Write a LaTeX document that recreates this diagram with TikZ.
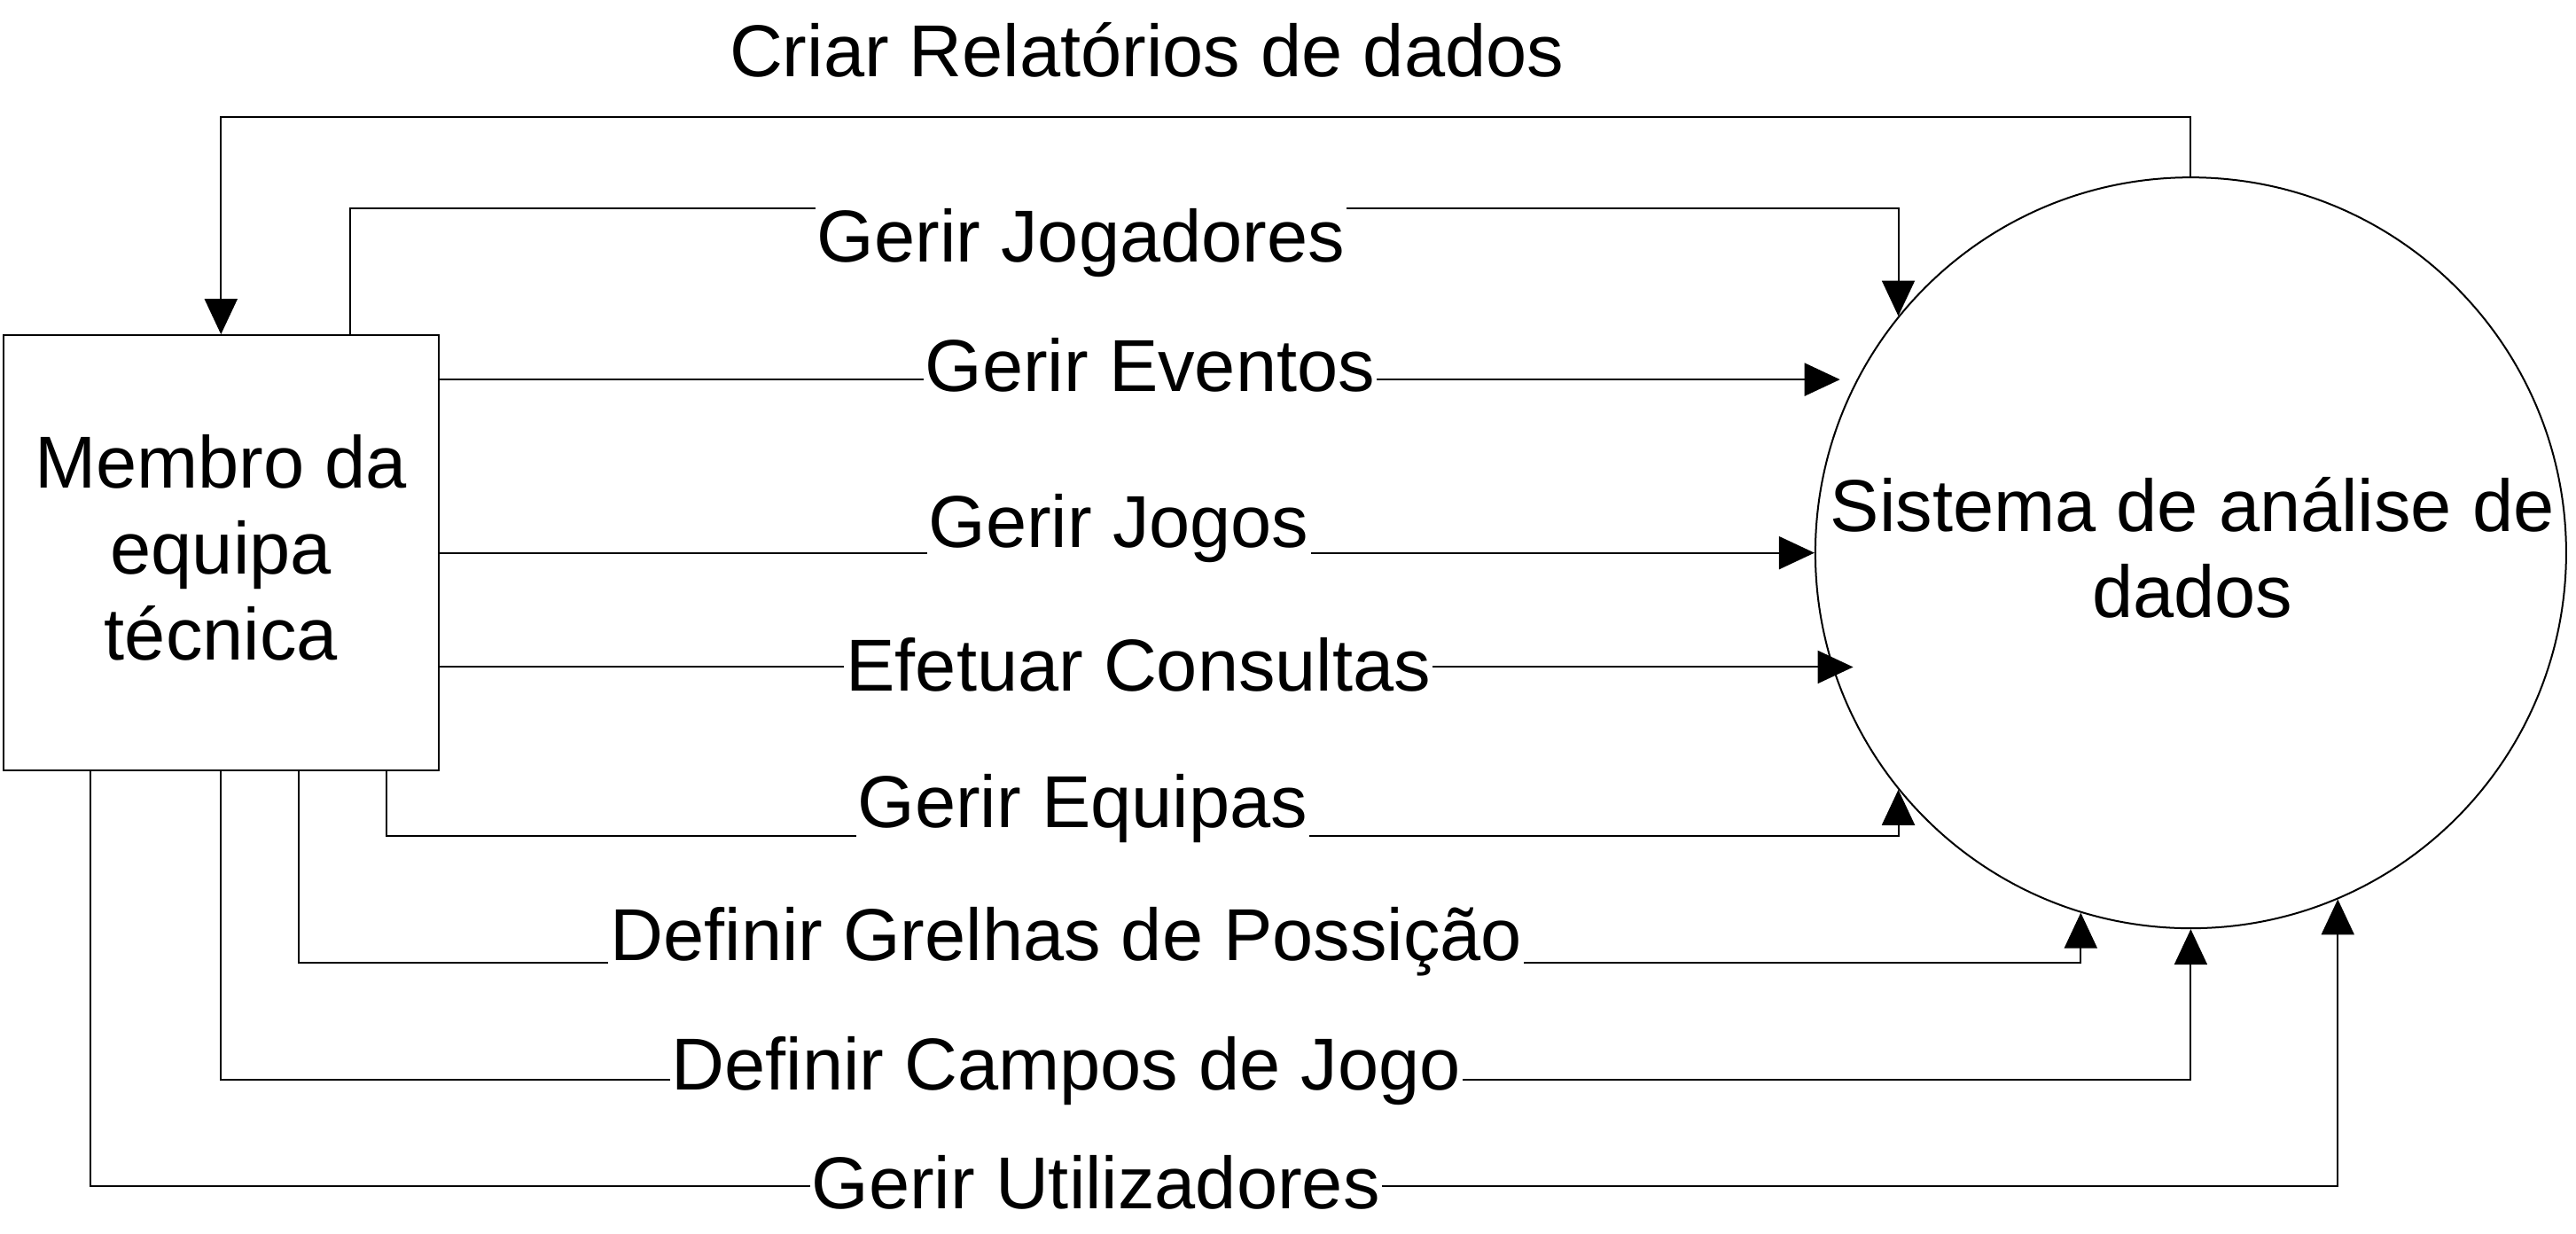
\documentclass[tikz,border=0pt]{standalone}
\usepackage{fontspec}
\setmainfont{Liberation Sans}
\usetikzlibrary{arrows.meta}
\begin{document}
\begin{tikzpicture}[x=1.8533pt,y=-1.8533pt,
  every node/.style={font=\fontsize{83}{97}\selectfont},
  ln/.style={line width=2pt},
  arr/.style={ln,-{Triangle[length=40pt,width=37pt]}},
  entity/.style={draw,line width=2pt,minimum width=491pt,minimum height=491pt,inner sep=0pt},
  proc/.style={draw,circle,line width=2pt,minimum size=847pt,inner sep=0pt},
  lbl/.style={fill=white,inner xsep=2pt,inner ysep=3pt,text height=61pt,text depth=17.5pt}]
\useasboundingbox (0,0) rectangle (1568,751);
\node[entity] (m) at (134.5,336.5) {};
\node (mt) at (134.5,333.5) [align=center] {Membro da\\equipa\\técnica};
\node[proc] (c) at (1333.5,336.5) {};
\node (ct) at (1334.5,333.5) [align=center] {Sistema de análise de\\dados};
% helper coordinates
\coordinate (xJ) at (213,0);
\coordinate (xEq) at (235,0);
\coordinate (xGr) at (182,0);
\coordinate (xUt) at (55,0);
\coordinate (yCr) at (0,71);
\coordinate (yJ) at (0,127);
\coordinate (yEv) at (0,231);
\coordinate (yCo) at (0,406);
\coordinate (yEq) at (0,509);
\coordinate (yGr) at (0,586);
\coordinate (yCa) at (0,657);
\coordinate (yUt) at (0,722);
\coordinate (tEv) at (1120,231);
\coordinate (tCo) at (1128,406);
% connectors
\draw[arr] (c.north) -- (c.north |- yCr) -| (m.north);
\draw[arr] (m.north -| xJ) |- (c.141 |- yJ) -- (c.141);
\draw[arr] (m.east |- yEv) -- (tEv);
\draw[arr] (m.east |- c.west) -- (c.west);
\draw[arr] (m.east |- yCo) -- (tCo);
\draw[arr] (m.south -| xEq) |- (c.219 |- yEq) -- (c.219);
\draw[arr] (m.south -| xGr) |- (c.253 |- yGr) -- (c.253);
\draw[arr] (m.south) |- (c.south |- yCa) -- (c.south);
\draw[arr] (m.south -| xUt) |- (c.293 |- yUt) -- (c.293);
% labels
\node[lbl] (lCr) at (698,34.7) {Criar Relatórios de dados};
\node[lbl] (lJ) at (658,147.7) {Gerir Jogadores};
\node[lbl] (lEv) at (700,226.7) {Gerir Eventos};
\node[lbl] (lJo) at (681,321.7) {Gerir Jogos};
\node[lbl] (lCo) at (693,408.7) {Efetuar Consultas};
\node[lbl] (lEq) at (659,491.7) {Gerir Equipas};
\node[lbl] (lGr) at (649,572.7) {Definir Grelhas de Possição};
\node[lbl] (lCa) at (649,651.7) {Definir Campos de Jogo};
\node[lbl] (lUt) at (667,723.7) {Gerir Utilizadores};
\end{tikzpicture}
\end{document}
